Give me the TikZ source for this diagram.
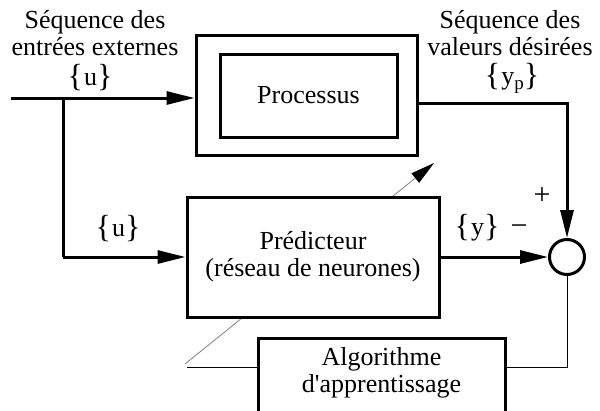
\documentclass[tikz,border=0pt]{standalone}
\usepackage{fontspec}
\setmainfont{Liberation Serif}
\usetikzlibrary{arrows.meta}
\newcommand\bropen{{\fontsize{32}{32}\selectfont\raisebox{-1pt}[0pt][0pt]{\{}}\kern1pt}
\newcommand\brclose{{\fontsize{32}{32}\selectfont\raisebox{-1pt}[0pt][0pt]{\}}}}
\begin{document}
\begin{tikzpicture}[x=1pt,y=-1pt,
  txt/.style={font=\fontsize{26}{27}\selectfont, align=center, inner sep=0pt},
  blk/.style={draw, line width=3pt, fill=white, font=\fontsize{26}{27}\selectfont, align=center, inner sep=0pt},
  sig/.style={line width=3pt, -{Triangle[length=28pt,width=13pt]}},
  wire/.style={line width=3pt},
  fbw/.style={line width=1pt},
  adj/.style={line width=0.8pt, gray, -{Triangle[length=24pt,width=12pt,color=black]}}]
\useasboundingbox (0,0) rectangle (600,410);
\clip (0,0) rectangle (600,410);

% adjustment arrow through the predictor (drawn first, hidden by the box)
\coordinate (adjS) at (185,364);
\coordinate (adjE) at (434,163);
\draw[adj] (adjS) -- (adjE);

% blocks
\node[blk, minimum width=221pt, minimum height=120pt] (proc) at (306.5,95) {};
\node[blk, minimum width=177pt, minimum height=83pt] (procin) at (308.5,95.5) {Processus};
\node[blk, minimum width=252pt, minimum height=120pt] (pred) at (313,257) {Prédicteur\\(réseau de neurones)};
\node[blk, minimum width=247pt, minimum height=110pt, anchor=north] (algo) at (381.5,337) {};
\node[txt] (algot) at (381.5,372.5) {Algorithme\\d\textquotesingle apprentissage};
\node[draw, circle, line width=3pt, minimum size=35pt, inner sep=0pt, fill=white] (sum) at (567,257) {};

% labels
\node[txt] (t1) at (95,33) {Séquence des\\entrées externes};
\node[txt] (u1) at (90,80) {\bropen u\brclose};
\node[txt] (t2) at (510,33) {Séquence des\\valeurs désirées};
\node[txt] (yp) at (512,83) {\bropen y\raisebox{-5pt}{\fontsize{19}{19}\selectfont p}\brclose};
\node[txt] (u2) at (118,231) {\bropen u\brclose};
\node[txt] (yl) at (477,232) {\bropen y\brclose};
\node[txt, font=\fontsize{30}{30}\selectfont] (plus) at (542,196) {+};
\node[txt, font=\fontsize{30}{30}\selectfont] (minus) at (519,230) {−};

% connectors
\coordinate (inL) at (11,98);
\coordinate (j) at (63,98);
\coordinate (j2) at (63,257);
\draw[sig] (inL) -- (inL -| proc.west);
\draw[wire] (j) -- (j2);
\draw[sig] (j2) -- (pred.west);
\draw[sig] (pred.east) -- (sum.west);
\coordinate (pc) at (567,103);
\draw[sig] (proc.east |- pc) -- (pc) -- (sum.north);
\coordinate (fb) at (567,367);
\draw[fbw] (sum.south) -- (fb) -- (fb -| algo.east);
\coordinate (fbL) at (187,367);
\draw[fbw] (algo.west |- fbL) -- (fbL);
\end{tikzpicture}
\end{document}
